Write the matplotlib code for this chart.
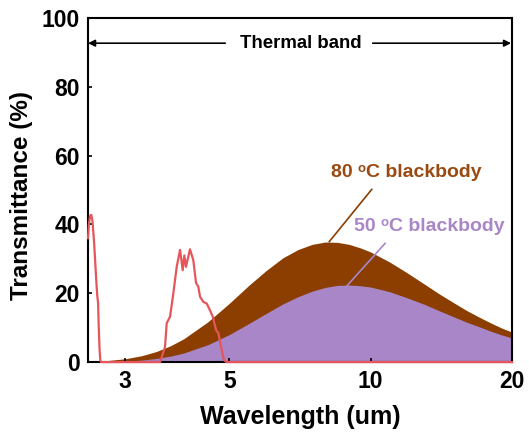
import matplotlib
matplotlib.use("Agg")
import matplotlib.pyplot as plt

plt.rcParams['font.family'] = ['Liberation Sans', 'DejaVu Sans']
plt.rcParams['font.weight'] = 'bold'

# blackbody spectra (scaled, %)
wl_bb = [2.5, 2.75, 3, 3.25, 3.5, 3.75, 4, 4.5, 5, 5.5, 6, 6.5, 7, 7.5, 8, 8.5,
         9, 9.5, 10, 11, 12, 13, 14, 15, 16, 17, 18, 19, 20]
bb80 = [0.16, 0.43, 0.96, 1.83, 3.09, 4.76, 6.8, 11.7, 17.1, 22.3, 26.7, 30.3, 32.7,
        34.2, 34.9, 34.8, 34.2, 33.2, 32.0, 29.0, 25.8, 22.7, 19.8, 17.3, 15.0, 13.1,
        11.4, 9.9, 8.7]
bb50 = [0.04, 0.11, 0.27, 0.57, 1.05, 1.74, 2.64, 5.05, 8.0, 11.2, 14.2, 16.9, 19.0,
        20.6, 21.7, 22.3, 22.4, 22.2, 21.8, 20.4, 18.6, 16.8, 14.9, 13.2, 11.6, 10.3,
        9.0, 7.9, 7.0]

# measured transmittance (%)
wl_t = [2.5, 2.51, 2.525, 2.54, 2.555, 2.575, 2.59, 2.605, 2.615, 2.62, 2.627, 2.635,
        2.645, 2.655, 2.665, 3.56, 3.647, 3.677, 3.738, 3.799, 3.862, 3.926, 3.977,
        4.009, 4.042, 4.122, 4.19, 4.246, 4.294, 4.33, 4.4, 4.475, 4.548, 4.609,
        4.684, 4.737, 4.816, 4.87, 4.94, 20]
trans = [36, 40, 42.5, 42.8, 41, 35, 29, 23, 19.5, 18.5, 17, 10, 4, 0.5, 0, 0, 4.4,
         11.3, 13.2, 20, 27.7, 32.6, 26.7, 31, 27.7, 32.8, 29.6, 23, 21.9, 19, 17.5,
         17, 15, 13.2, 9.3, 8.4, 3.5, 0.5, 0, 0]

c80 = '#8B3E00'
c50 = '#A886C8'
cred = '#E5565B'

fig = plt.figure(figsize=(5.29, 4.41), dpi=100)
ax = fig.add_axes([0.1664, 0.179, 0.8016, 0.78])

ax.fill_between(wl_bb, 0, bb80, color=c80, lw=0)
ax.fill_between(wl_bb, 0, bb50, color=c50, lw=0)
ax.plot(wl_t, trans, color=cred, lw=1.6, clip_on=False, zorder=3)

ax.set_xscale('log')
ax.set_xlim(2.5, 20)
ax.set_ylim(0, 100)
ax.set_xticks([3, 5, 10, 20])
ax.set_xticklabels(['3', '5', '10', '20'])
ax.minorticks_off()
ax.set_yticks([0, 20, 40, 60, 80, 100])
ax.tick_params(direction='in', length=3, width=1.2, labelsize=16.5, pad=6)
for s in ax.spines.values():
    s.set_linewidth(1.5)

ax.set_xlabel('Wavelength (um)', fontsize=18, fontweight='bold', labelpad=8)
ax.set_ylabel('Transmittance (%)', fontsize=17.5, fontweight='bold')
ax.yaxis.set_label_coords(-0.13, 0.483)

# thermal band arrows
ax.annotate('', xy=(2.5, 92.7), xytext=(4.9, 92.7),
            arrowprops=dict(arrowstyle='-|>', color='black', lw=1.2, shrinkA=0, shrinkB=0,
                            mutation_scale=10))
ax.annotate('', xy=(19.9, 92.7), xytext=(10.1, 92.7),
            arrowprops=dict(arrowstyle='-|>', color='black', lw=1.2, shrinkA=0, shrinkB=0,
                            mutation_scale=10))
ax.text(7.1, 92.7, 'Thermal band', ha='center', va='center', fontsize=13.4,
        fontweight='bold')

# labels for the two spectra
ax.plot([8.16, 10.05], [35.0, 50.2], color=c80, lw=1.2)
ax.plot([8.89, 10.73], [22.1, 34.5], color=c50, lw=1.2)
ax.text(11.88, 55, '80 \u1d52C blackbody', ha='center', va='center',
        fontsize=14, fontweight='bold', color='#9A4A10')
ax.text(13.3, 39.5, '50 \u1d52C blackbody', ha='center', va='center',
        fontsize=14, fontweight='bold', color=c50)

fig.savefig('out.png', dpi=100)
